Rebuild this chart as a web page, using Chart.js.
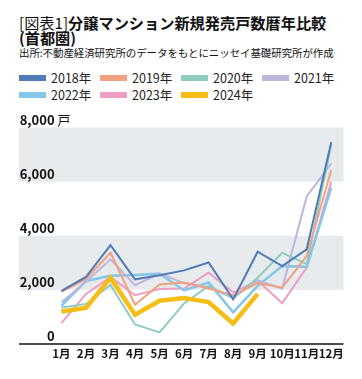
<!DOCTYPE html>
<html>
<head>
<meta charset="utf-8">
<script src="https://cdn.jsdelivr.net/npm/chart.js@4/dist/chart.umd.min.js"></script>
<style>
  body { margin: 0; background: #fff; font-family: "Noto Sans CJK JP", sans-serif; color: #111; }
  #wrap { position: relative; width: 362px; height: 379px; overflow: hidden; }
  #title { position: absolute; left: 19px; top: 14.5px; font-size: 15.2px; line-height: 15px; font-weight: bold; white-space: nowrap; }
  #title .pre { font-weight: normal; }
  #source { position: absolute; left: 19px; top: 45.5px; font-size: 10.5px; line-height: 14px; white-space: nowrap; letter-spacing: -0.1px; }
  #legend { position: absolute; left: 19px; top: 69px; width: 340px; display: flex; flex-wrap: wrap; }
  .item { width: 81px; height: 17px; display: flex; align-items: center; font-size: 12.5px; color: #222; }
  .sw { width: 27px; height: 6px; margin-right: 5px; }
  canvas { position: absolute; left: 0; top: 0; }
</style>
</head>
<body>
<div id="wrap">
  <div id="title"><span class="pre">[図表1]</span>分譲マンション新規発売戸数暦年比較<br>(首都圏)</div>
  <div id="source">出所:不動産経済研究所のデータをもとにニッセイ基礎研究所が作成</div>
  <div id="legend"></div>
  <canvas id="chart" width="362" height="379"></canvas>
</div>
<script>
const months = ['1月', '2月', '3月', '4月', '5月', '6月', '7月', '8月', '9月', '10月', '11月', '12月']
const years = ['2018年', '2019年', '2020年', '2021年', '2022年', '2023年', '2024年']
const yTicks = [0, 2000, 4000, 6000, 8000]

const y2018 = [1960, 2480, 3650, 2390, 2540, 2720, 3010, 1650, 3410, 2880, 3500, 7460]
const y2019 = [1930, 2400, 3370, 1450, 2200, 2270, 2050, 1800, 2250, 2080, 3250, 6430]
const y2020 = [1350, 1480, 2180, 720, 430, 1500, 2150, 1700, 2450, 3370, 2950, 7360]
const y2021 = [1540, 2300, 3130, 2170, 2600, 2250, 2100, 1700, 2350, 2050, 5450, 6670]
const y2022 = [1410, 2330, 2520, 2550, 2600, 1980, 2270, 1170, 2150, 2880, 2850, 5780]
const y2023 = [770, 1850, 2480, 1800, 2030, 2050, 2640, 1900, 2350, 1510, 2820, 6000]
const y2024 = [1200, 1330, 2450, 1080, 1600, 1700, 1550, 760, 1850]

const colors = ['#4f7cb6', '#f2a07f', '#8ecdc0', '#bcb6da', '#84c6ea', '#ee9ec2', '#f6bd16']
const widths = [2, 2, 2, 2, 2.5, 2, 4.5]
const series = [y2018, y2019, y2020, y2021, y2022, y2023, y2024]

// html legend
const legendEl = document.getElementById('legend')
years.forEach((name, i) => {
    const d = document.createElement('div')
    d.className = 'item'
    d.innerHTML = '<span class="sw" style="background:' + colors[i] + '"></span>' + name
    legendEl.appendChild(d)
})

// grey bands and the long base line
const bands = {
    id: 'bands',
    beforeDraw(chart) {
        const { ctx, chartArea, scales: { y } } = chart
        ctx.save()
        ctx.fillStyle = '#e8ebee'
        ;[[6000, 8000], [2000, 4000]].forEach(b => {
            const top = y.getPixelForValue(b[1])
            const bottom = y.getPixelForValue(b[0])
            ctx.fillRect(19, top, chartArea.right - 19, bottom - top)
        })
        ctx.restore()
    },
    afterDraw(chart) {
        const { ctx, chartArea, scales: { y } } = chart
        ctx.save()
        ctx.strokeStyle = '#111'
        ctx.lineWidth = 1.5
        ctx.beginPath()
        ctx.moveTo(19, chartArea.bottom)
        ctx.lineTo(chartArea.right, chartArea.bottom)
        ctx.stroke()
        ctx.fillStyle = '#111'
        ctx.font = '13px "Noto Sans CJK JP"'
        ctx.textBaseline = 'middle'
        ctx.fillText('戸', 57.5, y.getPixelForValue(8000) - 7.5)
        ctx.restore()
    }
}

const ctx = document.getElementById('chart').getContext('2d')
new Chart(ctx, {
    type: 'line',
    data: {
        labels: months,
        datasets: series.map((s, i) => ({
            label: years[i],
            data: s,
            borderColor: colors[i],
            backgroundColor: colors[i],
            borderWidth: widths[i],
            pointRadius: 0,
            tension: 0,
            order: i === 6 ? -1 : 0
        }))
    },
    options: {
        responsive: false,
        animation: false,
        layout: { padding: { left: 0, right: 18.5, top: 127.5, bottom: 13 } },
        scales: {
            x: {
                offset: true,
                grid: { display: false, drawTicks: false },
                border: { display: false },
                ticks: { color: '#111', font: { family: 'Noto Sans CJK JP', size: 11.5, weight: 'bold' }, padding: 3, maxRotation: 0, autoSkip: false },
                afterFit(scale) { scale.height = 22 }
            },
            y: {
                min: 0,
                max: 8000,
                afterBuildTicks(scale) { scale.ticks = yTicks.map(v => ({ value: v })) },
                grid: { display: false, drawTicks: false },
                border: { display: false },
                ticks: {
                    color: '#111',
                    font: { family: 'Noto Sans CJK JP', size: 13, weight: 'bold' },
                    mirror: true,
                    crossAlign: 'far',
                    padding: -29.5,
                    labelOffset: -7.5,
                    callback: v => v.toLocaleString('en-US')
                },
                afterFit(scale) { scale.width = 49.2 }
            }
        },
        plugins: {
            legend: { display: false },
            tooltip: { enabled: false }
        }
    },
    plugins: [bands]
})
</script>
</body>
</html>
